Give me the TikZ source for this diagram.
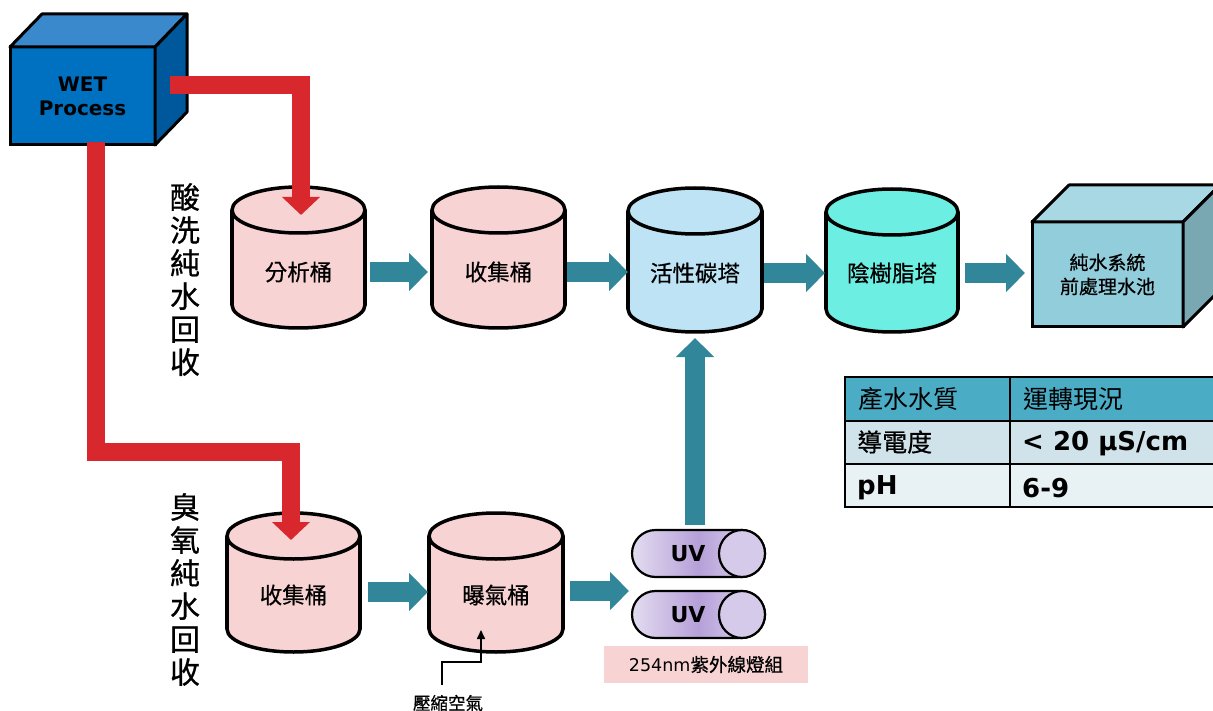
\documentclass[tikz,border=0pt]{standalone}
\usepackage{fontspec}
\newfontfamily\cjk[FakeBold=0.6]{Noto Sans CJK TC}
\newfontfamily\cjkr{Noto Sans CJK TC}
\newfontfamily\dejavu{DejaVu Sans}
\usetikzlibrary{arrows.meta,calc}
\definecolor{wetfront}{HTML}{0070C0}
\definecolor{wettop}{HTML}{3A89CC}
\definecolor{wetside}{HTML}{00589C}
\definecolor{poolfront}{HTML}{92CDDC}
\definecolor{pooltop}{HTML}{A8D8E3}
\definecolor{poolside}{HTML}{7AA8B2}
\definecolor{redp}{HTML}{D9272E}
\definecolor{tealp}{HTML}{32869A}
\definecolor{pinkd}{HTML}{F8D3D3}
\definecolor{blued}{HTML}{BDE3F5}
\definecolor{turqd}{HTML}{6CEEE2}
\definecolor{uvedge}{HTML}{E3DCF0}
\definecolor{uvmid}{HTML}{B6A0D8}
\definecolor{uvcap}{HTML}{D6CAEA}
\definecolor{hdr}{HTML}{4BACC6}
\definecolor{rowb}{HTML}{D0E3EA}
\definecolor{rowc}{HTML}{E8F1F4}
\newcommand\drum[8]{%
  \draw[drumline,fill=#6] (#2,#5) ellipse [x radius=#3pt, y radius=23pt];
  \fill[#6] ({#2-#3},#4) rectangle ({#2+#3},#5);
  \draw[drumline] ({#2-#3},#4) -- ({#2-#3},#5) ({#2+#3},#4) -- ({#2+#3},#5);
  \draw[drumline,fill=#6] (#2,#4) ellipse [x radius=#3pt, y radius=23pt];
  \node[drumtext, minimum width={2*#3pt}] (#1) at (#2,#7) {#8};
}
\begin{document}
\begin{tikzpicture}[x=1pt,y=-1pt,
  drumline/.style={line width=3.5pt, draw=black},
  drumtext/.style={font=\cjk\fontsize{22.5}{24}\selectfont, inner sep=0pt, minimum height=24pt, outer sep=0pt},
  tealflow/.style={draw=tealp, line width=20pt, -{Triangle[width=37pt,length=19pt]}},
  redpipe/.style={draw=redp, line width=18pt, line join=miter, -{Triangle[width=37pt,length=18pt]}},
  boxline/.style={line width=3pt, draw=black, line join=round},
  vtext/.style={font=\cjk\fontsize{30}{33}\selectfont, align=center, inner sep=0pt},
  celltext/.style={anchor=west, inner sep=0pt},
  airline/.style={draw=black, line width=1.6pt, -{Triangle[width=8pt,length=9pt]}}]
\useasboundingbox (0,0) rectangle (1213,711);
\clip (0,0) rectangle (1213,711);
\fill[white] (0,0) rectangle (1213,711);

% WET Process cube
\node[draw, line width=3pt, fill=wetfront, minimum width=145pt, minimum height=98pt, outer sep=0pt,
      align=center, font=\dejavu\bfseries\fontsize{20}{24}\selectfont, text=black] (wet) at (82.5,96) {WET\\Process};
\draw[boxline, fill=wettop] (wet.north west) -- ++(32,-33) -- ++(145,0) -- (wet.north east) -- cycle;
\draw[boxline, fill=wetside] (wet.north east) -- ++(32,-33) -- ++(0,98) -- (wet.south east) -- cycle;

% pool cube
\node[draw, line width=3pt, fill=poolfront, minimum width=151pt, minimum height=105pt, outer sep=0pt,
      align=center, font=\cjk\fontsize{19}{24}\selectfont] (pool) at (1107.5,274.5) {純水系統\\前處理水池};
\draw[boxline, fill=pooltop] (pool.north west) -- ++(37,-37) -- ++(151,0) -- (pool.north east) -- cycle;
\draw[boxline, fill=poolside] (pool.north east) -- ++(37,-37) -- ++(0,105) -- (pool.south east) -- cycle;

% drums
\drum{c1}{298.5}{66.5}{210}{305}{pinkd}{272}{分析桶}
\drum{c2}{498.5}{66.5}{210}{305}{pinkd}{272}{收集桶}
\drum{c3}{695}{67}{211}{309}{blued}{273}{活性碳塔}
\drum{c4}{892}{66}{212}{309}{turqd}{273}{陰樹脂塔}
\drum{c5}{293.5}{66.5}{536}{629}{pinkd}{595}{收集桶}
\drum{c6}{496}{67}{536}{629}{pinkd}{595}{曝氣桶}

% red pipes
\coordinate (c1in) at (301,215);
\coordinate (c5in) at (291,540);
\draw[redpipe] ([xshift=15pt,yshift=11pt]wet.east) -| (c1in);
\draw[redpipe] ([xshift=13.5pt,yshift=3pt]wet.south) |- ([yshift=88pt]c5in) -- (c5in);

% vertical labels
\node[vtext] (lab1) at (185,279.5) {酸\\洗\\純\\水\\回\\收};
\node[vtext] (lab2) at (185,589.5) {臭\\氧\\純\\水\\回\\收};

% UV tubes
\path[draw=black, line width=2.2pt, rounded corners=23.5pt, left color=uvedge, right color=uvedge, middle color=uvmid] (632,530) rectangle (765,577);
\draw[line width=2.2pt, fill=uvcap] (742,553.5) ellipse [x radius=23pt, y radius=23.5pt];
\node[minimum width=133pt, minimum height=47pt, inner sep=0pt] (uv1) at (698.5,553.5) {};
\node[font=\dejavu\bfseries\fontsize{22}{24}\selectfont, inner sep=0pt] (uv1t) at (688,554) {UV};
\path[draw=black, line width=2.2pt, rounded corners=23.5pt, left color=uvedge, right color=uvedge, middle color=uvmid] (632,591) rectangle (765,638);
\draw[line width=2.2pt, fill=uvcap] (742,614.5) ellipse [x radius=23pt, y radius=23.5pt];
\node[minimum width=133pt, minimum height=47pt, inner sep=0pt] (uv2) at (698.5,614.5) {};
\node[font=\dejavu\bfseries\fontsize{22}{24}\selectfont, inner sep=0pt] (uv2t) at (688,615) {UV};
\node[fill=pinkd, minimum width=204pt, minimum height=37pt, inner sep=0pt] (uvlabel) at (706,664.5) {{\dejavu\fontsize{17.5}{20}\selectfont 254nm}{\cjk\fontsize{18.5}{20}\selectfont 紫外線燈組}};

% teal flows
\coordinate (uvin) at (629,591);
\coordinate (c3in) at (695,338);
\draw[tealflow] ([xshift=5pt]c1.east) -- ([xshift=-4pt]c2.west);
\draw[tealflow] ([xshift=2pt]c2.east) -- ([xshift=0pt]c3.west |- c2.east);
\draw[tealflow] ([xshift=2pt]c3.east) -- ([xshift=-1pt]c4.west);
\draw[tealflow] ([xshift=7pt]c4.east) -- ([xshift=-7pt]pool.west |- c4.east);
\draw[tealflow] ([xshift=8pt,yshift=3pt]c5.east) -- ([xshift=-1pt,yshift=3pt]c6.west);
\draw[tealflow] ([xshift=7pt,yshift=4pt]c6.east) -- (uvin);
\draw[tealflow] ([xshift=-3.5pt,yshift=5pt]uv1.north) -- (c3in);

% compressed air
\node[font=\cjk\fontsize{17.5}{18}\selectfont, inner sep=0pt] (air) at (448,703) {壓縮空氣};
\coordinate (c6air) at (481,630);
\draw[airline] (442,685) |- ([yshift=-32pt]c6air) -- (c6air);

% table
\fill[hdr] (845,377) rectangle (1214,421);
\fill[rowb] (845,421) rectangle (1214,464);
\fill[rowc] (845,464) rectangle (1214,507);
\draw[line width=1.5pt] (845,377) rectangle (1214,507);
\draw[line width=1.5pt] (845,421) -- (1214,421) (845,464) -- (1214,464) (1010,377) -- (1010,507);
\node[celltext, font=\cjkr\fontsize{25}{26}\selectfont] (t11) at (858,399) {產水水質};
\node[celltext, font=\cjkr\fontsize{25}{26}\selectfont] (t12) at (1023,399) {運轉現況};
\node[celltext, font=\cjk\fontsize{25}{26}\selectfont] (t21) at (857,442) {導電度};
\node[celltext, font=\dejavu\bfseries\fontsize{26}{28}\selectfont] (t22) at (1022,444) {< 20 μS/cm};
\node[celltext, font=\dejavu\bfseries\fontsize{26}{28}\selectfont] (t31) at (857,488) {pH};
\node[celltext, font=\dejavu\bfseries\fontsize{26}{28}\selectfont] (t32) at (1022,488) {6-9};
\end{tikzpicture}
\end{document}
